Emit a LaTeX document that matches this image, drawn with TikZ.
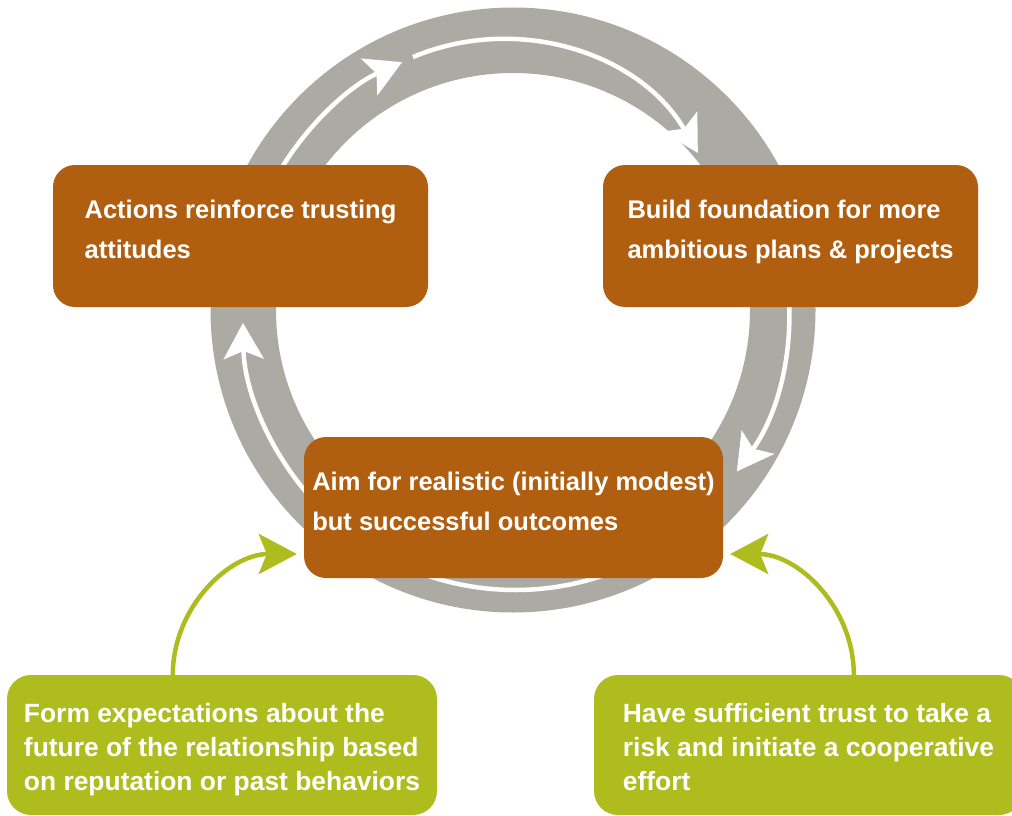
\documentclass[tikz,border=0pt]{standalone}
\usepackage{fontspec}
\setmainfont{Liberation Sans}
\usetikzlibrary{arrows.meta}
\definecolor{ringgrey}{RGB}{172,171,163}
\definecolor{boxorange}{RGB}{176,94,15}
\definecolor{boxgreen}{RGB}{175,188,30}
\begin{document}
\begin{tikzpicture}[x=1pt,y=1pt,
  obox/.style={fill=boxorange, rounded corners=22pt, text=white,
    font=\bfseries\fontsize{25.5}{40}\selectfont, align=left,
    inner ysep=0pt, inner xsep=0pt, text height=93pt},
  gbox/.style={fill=boxgreen, rounded corners=24pt, text=white,
    font=\bfseries\fontsize{26.4}{34}\selectfont, align=left,
    inner ysep=0pt, inner xsep=0pt, text height=115pt, text depth=25pt},
  whitearrow/.style={white, line width=4.5pt, -{Stealth[length=36pt,width=40pt,inset=8pt]}},
  greenarrow/.style={boxgreen, line width=4.5pt, -{Stealth[length=38pt,width=40pt,inset=8pt]}},
  ringstyle/.style={ringgrey, line width=65.5pt}
]
\useasboundingbox (0,0) rectangle (1012,-816);
\fill[white] (0,0) rectangle (1012,-816);

% cycle ring
\coordinate (o) at (513,-310);
\coordinate (o2) at (501,-266.6);
\coordinate (o4) at (515.2,-317.7);
\draw[ringstyle] (o) circle[radius=269.75];

% white cycle arrows
\draw[whitearrow] ([shift={(150:271.5)}]o) arc[start angle=150, end angle=114.1, radius=271.5];
\draw[whitearrow] ([shift={(112.8:227.3)}]o2) arc[start angle=112.8, end angle=30, radius=227.3];
\draw[whitearrow] ([shift={(15:276)}]o) arc[start angle=15, end angle=-35.8, radius=276];
\draw[whitearrow] ([shift={(-45:272.3)}]o4) arc[start angle=-45, end angle=-178.9, radius=272.3];

% boxes
\node[obox, minimum width=375pt, text depth=49pt] (act) at (240.5,-236)
  {Actions reinforce trusting\\attitudes};
\node[obox, minimum width=375pt, text depth=49pt] (bld) at (790.5,-236)
  {Build foundation for more\\ambitious plans \& projects};
\node[obox, minimum width=419pt, text depth=48pt] (aim) at (513.5,-507.5)
  {Aim for realistic (initially modest)\\but successful outcomes};
\node[gbox, minimum width=430pt] (lg) at (222,-745)
  {Form expectations about the\\future of the relationship based\\on reputation or past behaviors};
\node[gbox, minimum width=429pt] (rg) at (808.5,-745)
  {Have sufficient trust to take a\\risk and initiate a cooperative\\effort};

% green arrows
\draw[greenarrow] ([xshift=166pt]lg.north west) to[out=90, in=180] ([xshift=-7pt, yshift=-46.5pt]aim.west);
\draw[greenarrow] ([xshift=260pt]rg.north west) to[out=90, in=0] ([xshift=7pt, yshift=-46.5pt]aim.east);
\end{tikzpicture}
\end{document}
